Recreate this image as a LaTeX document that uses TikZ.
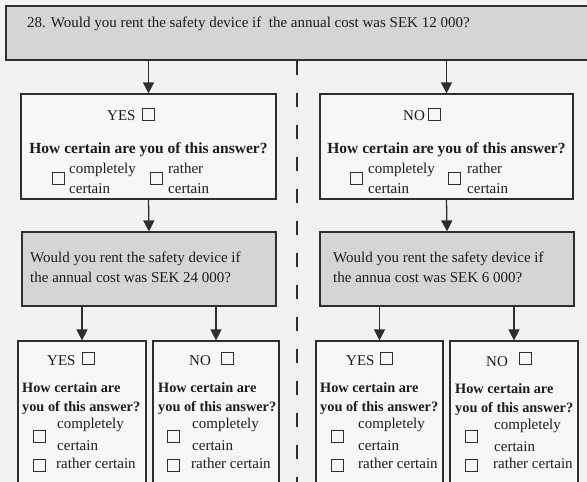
\documentclass[tikz,border=0pt]{standalone}
\usepackage{fontspec}
\setmainfont{Liberation Serif}
\usepackage{tikz}
\usetikzlibrary{positioning, arrows.meta}
\definecolor{PageBg}{HTML}{F2F2F2}
\definecolor{BoxWhite}{HTML}{F7F7F7}
\definecolor{QuestGray}{HTML}{D5D5D5}
\definecolor{LineDark}{HTML}{2E2E2E}
\definecolor{TextDark}{HTML}{1C1C1C}

\tikzset{
  qbox/.style={draw=LineDark, fill=QuestGray, line width=1.2pt, inner sep=0pt},
  abox/.style={draw=LineDark, fill=BoxWhite, line width=1.2pt, inner sep=0pt},
  chk/.style={draw=LineDark, fill=BoxWhite, line width=0.9pt, minimum size=12pt, inner sep=0pt},
  lbl/.style={anchor=base west, inner sep=0pt, text=TextDark, font=\fontsize{15}{18}\selectfont},
  ask/.style={anchor=base, inner sep=0pt, text=TextDark, font=\bfseries\fontsize{15.5}{18}\selectfont},
  asksm/.style={anchor=base west, inner sep=0pt, text=TextDark, font=\bfseries\fontsize{14.3}{17}\selectfont},
  arr/.style={draw=LineDark, line width=1.3pt, -{Triangle[width=11pt,length=11pt]}},
  divider/.style={draw=LineDark, line width=1.3pt, dash pattern=on 14pt off 18pt}
}

\begin{document}
\begin{tikzpicture}[x=1pt, y=-1pt]
  \useasboundingbox (0,0) rectangle (587,482);
  \clip (0,0) rectangle (587,482);
  \fill[PageBg] (0,0) rectangle (587,482);

  % Main question
  \node[qbox, minimum width=600pt, minimum height=54pt] (q0) at (306,33) {};
  \node[lbl] (q0t) at (27,27) {28. Would you rent the safety device if\ \ the annual cost was SEK 12 000?};

  % Divider
  \coordinate (dbot) at (297,490);
  \draw[divider] (q0.south -| dbot) -- (dbot);

  % First answers
  \node[abox, minimum width=255pt, minimum height=105pt] (yes1) at (148.5,146.5) {};
  \node[abox, minimum width=253pt, minimum height=105pt] (no1) at (446.5,146.5) {};
  \draw[arr] (q0.south -| yes1.north) -- (yes1.north);
  \draw[arr] (q0.south -| no1.north) -- (no1.north);

  \node[lbl] (yes1h) at (107,120) {YES};
  \node[chk] (yes1hk) at (148,114.5) {};
  \node[ask] (yes1q) at (148.5,153) {How certain are you of this answer?};
  \node[chk] (yes1k1) at (58,178.5) {};
  \node[lbl] (yes1c1) at (69,173) {completely};
  \node[lbl] (yes1c2) at (69,193) {certain};
  \node[chk] (yes1k2) at (156.5,178.5) {};
  \node[lbl] (yes1r1) at (168,173) {rather};
  \node[lbl] (yes1r2) at (168,193) {certain};

  \node[lbl] (no1h) at (403,120) {NO};
  \node[chk] (no1hk) at (434,114.5) {};
  \node[ask] (no1q) at (446.5,153) {How certain are you of this answer?};
  \node[chk] (no1k1) at (356,178.5) {};
  \node[lbl] (no1c1) at (368,173) {completely};
  \node[lbl] (no1c2) at (368,193) {certain};
  \node[chk] (no1k2) at (454,178.5) {};
  \node[lbl] (no1r1) at (467,173) {rather};
  \node[lbl] (no1r2) at (467,193) {certain};

  % Follow-up questions
  \node[qbox, minimum width=254pt, minimum height=74pt] (q1) at (149,269) {};
  \node[qbox, minimum width=254pt, minimum height=74pt] (q2) at (447,269) {};
  \draw[arr] (yes1.south) -- (q1.north);
  \draw[arr] (no1.south) -- (q2.north);

  \node[lbl] (q1t1) at (30,262) {Would you rent the safety device if};
  \node[lbl] (q1t2) at (30,282) {the annual cost was SEK 24 000?};
  \node[lbl] (q2t1) at (333,262) {Would you rent the safety device if};
  \node[lbl] (q2t2) at (333,282) {the annua cost was SEK 6 000?};

  % Second answers
  \node[abox, minimum width=128pt, minimum height=160pt] (yy) at (82,421) {};
  \node[abox, minimum width=126pt, minimum height=160pt] (yn) at (216,421) {};
  \node[abox, minimum width=127pt, minimum height=160pt] (ny) at (379.5,421) {};
  \node[abox, minimum width=128pt, minimum height=160pt] (nn) at (514,421) {};
  \draw[arr] (q1.south -| yy.north) -- (yy.north);
  \draw[arr] (q1.south -| yn.north) -- (yn.north);
  \draw[arr] (q2.south -| ny.north) -- (ny.north);
  \draw[arr] (q2.south -| nn.north) -- (nn.north);

  \node[lbl] (yyh) at (47,365) {YES};
  \node[chk] (yyhk) at (88,358.5) {};
  \node[asksm] (yyq1) at (22,392) {How certain are};
  \node[asksm] (yyq2) at (22,411) {you of this answer?};
  \node[chk] (yyk1) at (39.5,436) {};
  \node[lbl] (yyc1) at (57,428) {completely};
  \node[lbl] (yyc2) at (57,450) {certain};
  \node[chk] (yyk2) at (39.5,465) {};
  \node[lbl] (yyr) at (56,468) {rather certain};

  \node[lbl] (ynh) at (189,365) {NO};
  \node[chk] (ynhk) at (227.5,358.5) {};
  \node[asksm] (ynq1) at (158,392) {How certain are};
  \node[asksm] (ynq2) at (158,411) {you of this answer?};
  \node[chk] (ynk1) at (173.5,436) {};
  \node[lbl] (ync1) at (192,428) {completely};
  \node[lbl] (ync2) at (192,450) {certain};
  \node[chk] (ynk2) at (173.5,465) {};
  \node[lbl] (ynr) at (191,468) {rather certain};

  \node[lbl] (nyh) at (346,365) {YES};
  \node[chk] (nyhk) at (386.5,358.5) {};
  \node[asksm] (nyq1) at (320,392) {How certain are};
  \node[asksm] (nyq2) at (320,411) {you of this answer?};
  \node[chk] (nyk1) at (337.5,436) {};
  \node[lbl] (nyc1) at (358,428) {completely};
  \node[lbl] (nyc2) at (358,450) {certain};
  \node[chk] (nyk2) at (337.5,465) {};
  \node[lbl] (nyr) at (358,468) {rather certain};

  \node[lbl] (nnh) at (486,366) {NO};
  \node[chk] (nnhk) at (525.5,358.5) {};
  \node[asksm] (nnq1) at (455,393) {How certain are};
  \node[asksm] (nnq2) at (455,412) {you of this answer?};
  \node[chk] (nnk1) at (471.5,436) {};
  \node[lbl] (nnc1) at (494,429) {completely};
  \node[lbl] (nnc2) at (494,451) {certain};
  \node[chk] (nnk2) at (471.5,465) {};
  \node[lbl] (nnr) at (493,468) {rather certain};
\end{tikzpicture}
\end{document}
